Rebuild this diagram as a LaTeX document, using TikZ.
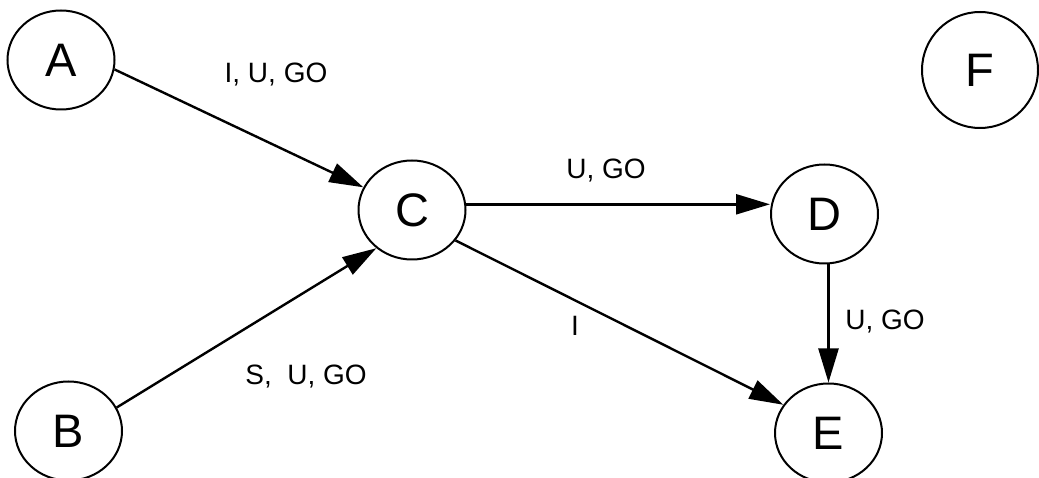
\documentclass[tikz,border=0pt]{standalone}
\usepackage{fontspec}
\setmainfont{Liberation Sans}
\usetikzlibrary{shapes.geometric,arrows.meta}

\begin{document}
\begin{tikzpicture}[x=1pt,y=1pt,
		state/.style={ellipse,draw,line width=2pt,minimum width=107pt,minimum height=99pt,inner sep=0pt,font=\fontsize{47}{47}\selectfont},
		edge/.style={line width=2.4pt,-{Triangle[length=34pt,width=20pt]}},
		lbl/.style={font=\fontsize{28}{28}\selectfont}]
		\useasboundingbox (0,0) rectangle (1039,477);
		\node[state] (A) at (61,417) {A};
		\node[state] (B) at (68.5,46) {B};
		\node[state] (C) at (412,267) {C};
		\node[state] (D) at (824.5,263) {D};
		\node[state] (E) at (828.5,44) {E};
		\node[state,minimum width=116pt,minimum height=116pt] (F) at (980,407) {F};
		\draw[edge] (A.-10) -- (C.155);
		\draw[edge] (B.26) -- (C.-133);
		\draw[edge] (C.6) -- (C.6 -| D.west);
		\draw[edge] (C.-35) -- (E.148);
		\draw[edge] (D.south -| E.north) -- (E.north);
		\node[lbl] (lac) at (276,402) {I, U, GO};
		\node[lbl] (lbc) at (306,100) {S,\ \ U, GO};
		\node[lbl] (lcd) at (606,306) {U, GO};
		\node[lbl] (lce) at (575,151) {I};
		\node[lbl] (lde) at (885,155) {U, GO};
	\end{tikzpicture}
\end{document}
